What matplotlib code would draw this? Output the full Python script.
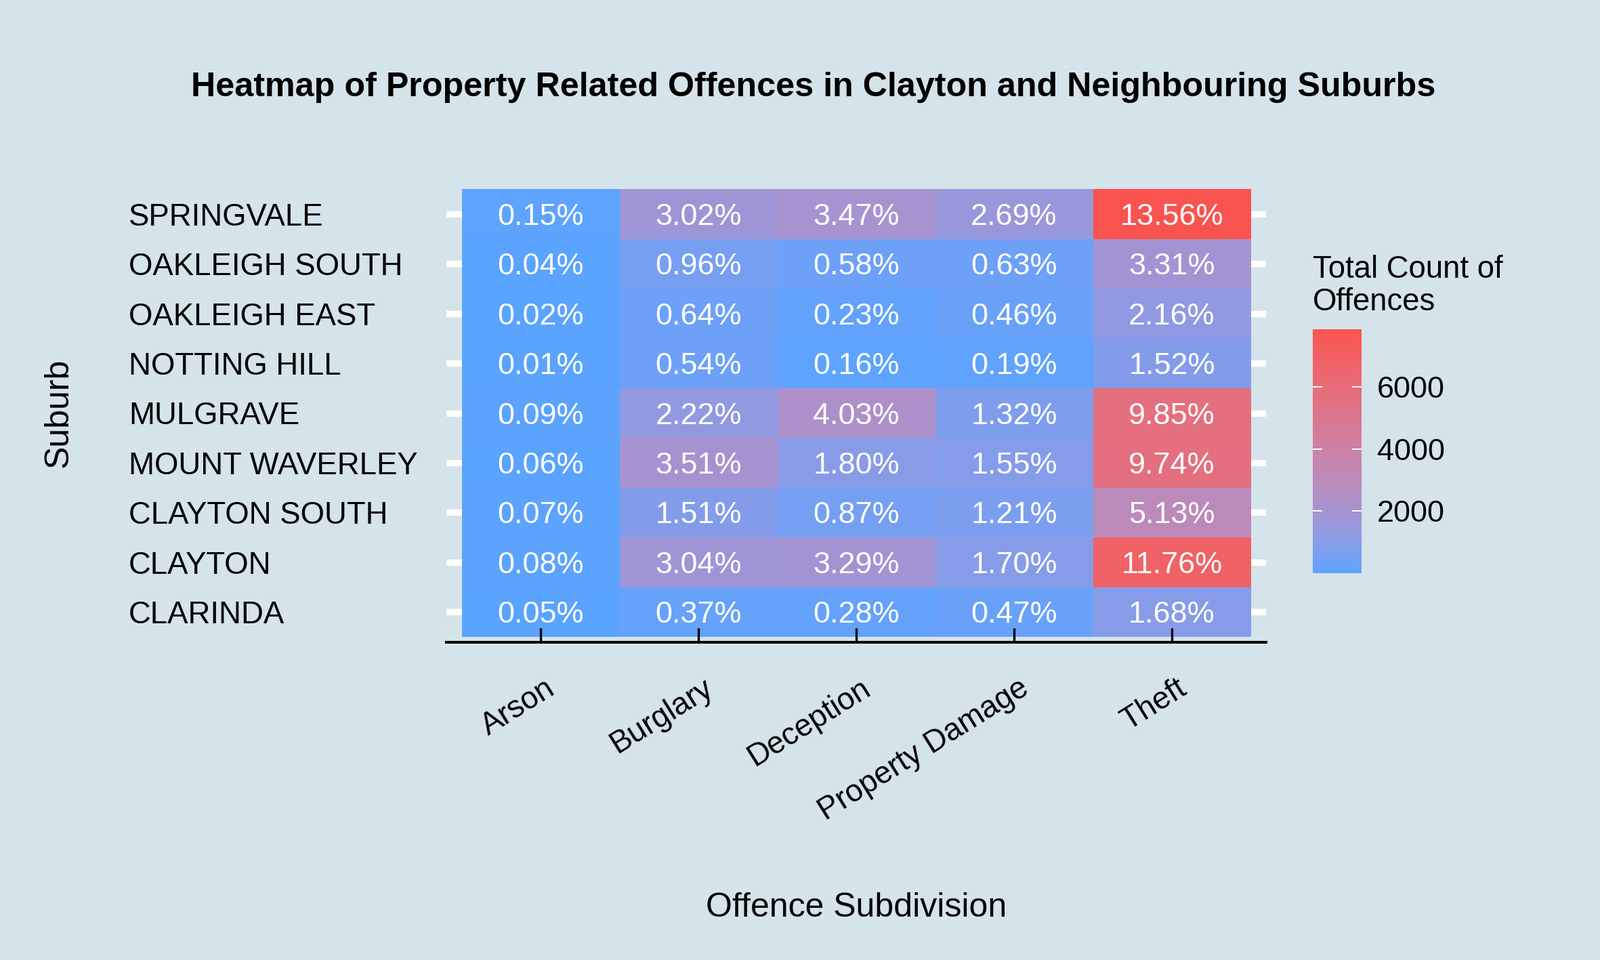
import numpy as np
import matplotlib
matplotlib.use("Agg")
import matplotlib.pyplot as plt
from matplotlib.colors import ListedColormap, Normalize, to_rgb
from matplotlib.transforms import ScaledTranslation

# ---------------- data ----------------
suburbs = ["CLARINDA", "CLAYTON", "CLAYTON SOUTH", "MOUNT WAVERLEY", "MULGRAVE",
           "NOTTING HILL", "OAKLEIGH EAST", "OAKLEIGH SOUTH", "SPRINGVALE"]
offences = ["Arson", "Burglary", "Deception", "Property Damage", "Theft"]
arson_pct = [0.05, 0.08, 0.07, 0.06, 0.09, 0.01, 0.02, 0.04, 0.15]
burglary_pct = [0.37, 3.04, 1.51, 3.51, 2.22, 0.54, 0.64, 0.96, 3.02]
deception_pct = [0.28, 3.29, 0.87, 1.80, 4.03, 0.16, 0.23, 0.58, 3.47]
property_damage_pct = [0.47, 1.70, 1.21, 1.55, 1.32, 0.19, 0.46, 0.63, 2.69]
theft_pct = [1.68, 11.76, 5.13, 9.74, 9.85, 1.52, 2.16, 3.31, 13.56]
total_offences = 57870
colorbar_ticks = [2000, 4000, 6000]

title = "Heatmap of Property Related Offences in Clayton and Neighbouring Suburbs"
x_title = "Offence Subdivision"
y_title = "Suburb"
legend_title_lines = ["Total Count of", "Offences"]

pct = np.column_stack([arson_pct, burglary_pct, deception_pct,
                       property_damage_pct, theft_pct])
counts = pct / 100.0 * total_offences

# ---------------- colours (CIELAB gradient like ggplot) ----------------
BG = "#D5E3EA"
LOW = "#5BA4FF"
HIGH = "#FA5450"

_M = np.array([[0.4124564, 0.3575761, 0.1804375],
               [0.2126729, 0.7151522, 0.0721750],
               [0.0193339, 0.1191920, 0.9503041]])
_WHITE = np.array([0.95047, 1.0, 1.08883])


def rgb2lab(c):
    c = np.asarray(c, float)
    lin = np.where(c <= 0.04045, c / 12.92, ((c + 0.055) / 1.055) ** 2.4)
    xyz = _M @ lin / _WHITE
    d = 6 / 29
    f = np.where(xyz > d ** 3, np.cbrt(xyz), xyz / (3 * d * d) + 4 / 29)
    return np.array([116 * f[1] - 16, 500 * (f[0] - f[1]), 200 * (f[1] - f[2])])


def lab2rgb(lab):
    L, a, b = lab
    fy = (L + 16) / 116
    fx = fy + a / 500
    fz = fy - b / 200
    d = 6 / 29
    f = np.array([fx, fy, fz])
    xyz = np.where(f > d, f ** 3, 3 * d * d * (f - 4 / 29)) * _WHITE
    lin = np.linalg.solve(_M, xyz)
    lin = np.clip(lin, 0, 1)
    c = np.where(lin <= 0.0031308, 12.92 * lin, 1.055 * lin ** (1 / 2.4) - 0.055)
    return np.clip(c, 0, 1)


lab_lo, lab_hi = rgb2lab(to_rgb(LOW)), rgb2lab(to_rgb(HIGH))
cols = [lab2rgb(lab_lo + t * (lab_hi - lab_lo)) for t in np.linspace(0, 1, 256)]
cmap = ListedColormap(cols)
norm = Normalize(vmin=counts.min(), vmax=counts.max())

# ---------------- figure ----------------
plt.rcParams["font.family"] = ["Liberation Sans", "DejaVu Sans"]
W, H, DPI = 2362, 1417, 200
fig = plt.figure(figsize=(W / DPI, H / DPI), dpi=DPI, facecolor=BG)


def px(x0, y0, x1, y1):
    return [x0 / W, 1 - y1 / H, (x1 - x0) / W, (y1 - y0) / H]


ax = fig.add_axes(px(659, 271, 1869, 948))
ax.set_facecolor(BG)

n_rows, n_cols = counts.shape
ax.imshow(counts, cmap=cmap, norm=norm, origin="lower", aspect="auto",
          extent=(-0.5, n_cols - 0.5, -0.5, n_rows - 0.5),
          interpolation="nearest", zorder=1)
for r in range(n_rows):
    ax.axhline(r, color="white", lw=3.4, zorder=0.5)

for r in range(n_rows):
    for c in range(n_cols):
        ax.text(c, r, f"{pct[r, c]:.2f}%", ha="center", va="center_baseline",
                color="white", fontsize=16.2, zorder=3)

ax.set_xlim(-0.597, n_cols - 1 + 0.597)
ax.set_ylim(-0.609, n_rows - 1 + 0.609)

for s in ["top", "right", "left"]:
    ax.spines[s].set_visible(False)
ax.spines["bottom"].set_color("black")
ax.spines["bottom"].set_linewidth(1.45)
ax.spines["bottom"].set_zorder(4)

ax.set_xticks(range(n_cols))
ax.set_xticklabels(offences, rotation=32, ha="right", va="top",
                   rotation_mode="anchor", fontsize=16.4)
ax.tick_params(axis="x", direction="in", length=7.6, width=1.2, color="black",
               pad=16.5)
shift = ScaledTranslation(6 / DPI, 0, fig.dpi_scale_trans)
for lab in ax.get_xticklabels():
    lab.set_transform(lab.get_transform() + shift)

ax.set_yticks(range(n_rows))
ax.set_yticklabels(suburbs, ha="left", fontsize=16.4)
ax.tick_params(axis="y", length=0, pad=(659 - 190) * 72 / DPI)

ax.set_xlabel(x_title, fontsize=18, va="baseline")
ax.xaxis.set_label_coords(0.5, (948 - 1353) / 677)
ax.set_ylabel(y_title, fontsize=18, va="baseline")
ax.yaxis.set_label_coords((100 - 659) / 1210, 0.5)

# ---------------- colourbar ----------------
cax = fig.add_axes(px(1938, 486, 2010, 846))
sm = matplotlib.cm.ScalarMappable(norm=norm, cmap=cmap)
cb = fig.colorbar(sm, cax=cax, ticks=colorbar_ticks)
cb.outline.set_visible(False)
cax.yaxis.set_ticks_position("both")
cax.tick_params(axis="y", direction="in", length=5, width=0.7, color="white",
                labelcolor="black", left=True, right=True, labelleft=False,
                labelright=True, pad=8.3, labelsize=16.2)

fig.text(1938 / W, 1 - 410 / H, legend_title_lines[0], ha="left", va="baseline",
         fontsize=16.4)
fig.text(1938 / W, 1 - 458 / H, legend_title_lines[1], ha="left", va="baseline",
         fontsize=16.4)

fig.text(1201 / W, 1 - 141.7 / H, title, ha="center", va="baseline",
         fontsize=18.1, fontweight="bold")

fig.savefig("out.png", dpi=DPI, facecolor=BG)
